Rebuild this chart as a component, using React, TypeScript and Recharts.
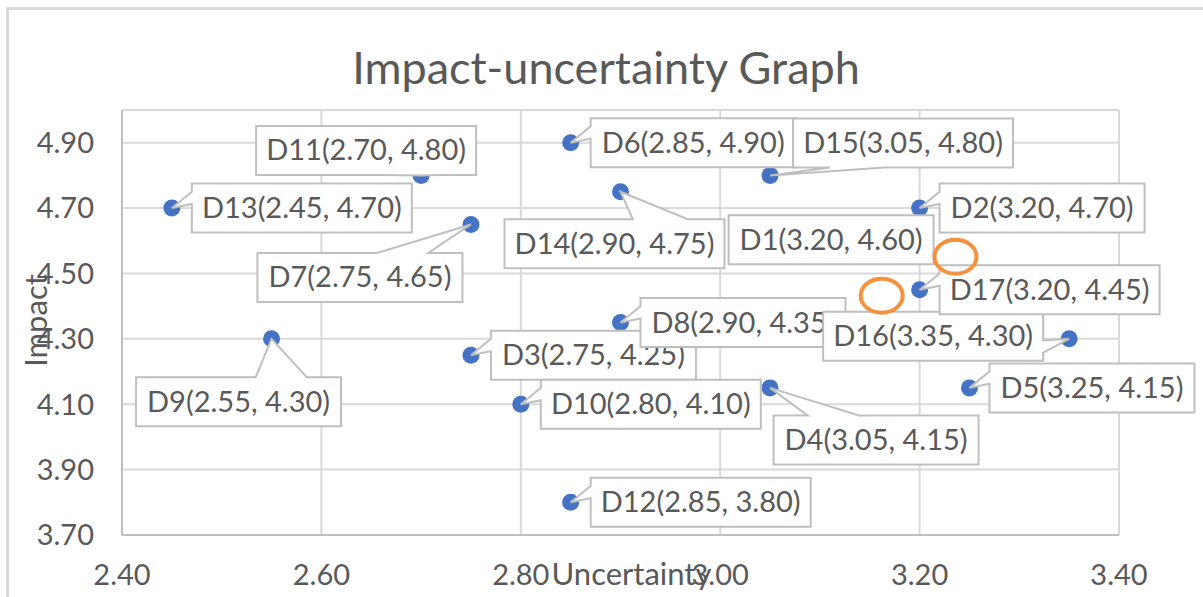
import React from 'react';
import { ScatterChart, Scatter, XAxis, YAxis, CartesianGrid, Label } from 'recharts';

// ---------- data ----------
const names = ['D1', 'D2', 'D3', 'D4', 'D5', 'D6', 'D7', 'D8', 'D9', 'D10', 'D11', 'D12', 'D13', 'D14', 'D15', 'D16', 'D17'];
const uncertainty = [3.2, 3.2, 2.75, 3.05, 3.25, 2.85, 2.75, 2.9, 2.55, 2.8, 2.7, 2.85, 2.45, 2.9, 3.05, 3.35, 3.2];
const impact = [4.6, 4.7, 4.25, 4.15, 4.15, 4.9, 4.65, 4.35, 4.3, 4.1, 4.8, 3.8, 4.7, 4.75, 4.8, 4.3, 4.45];
const xTicks = [2.4, 2.6, 2.8, 3.0, 3.2, 3.4];
const yTicks = [3.7, 3.9, 4.1, 4.3, 4.5, 4.7, 4.9];
const ringX = [3.236, 3.162];
const ringY = [4.551, 4.432];

const TITLE = 'Impact-uncertainty Graph';
const X_TITLE = 'Uncertainty';
const Y_TITLE = 'Impact';

// ---------- label layout (px offsets of label-box centre from its point) ----------
const labelOffsets: Record<string, [number, number]> = {
  D1: [-88.5, -1],
  D4: [106, 52],
  D7: [-111, 53],
  D9: [-33, 63],
  D11: [-55, -25],
  D14: [-6, 52],
  D15: [133, -32.5],
  D16: [-136, -2.5],
};

const FONT = 'Lato, "Open Sans", sans-serif';
const TEXT = '#595959';
const BLUE = '#4472C4';
const ORANGE = '#F4923F';

const points = names.map((n, i) => ({ name: n, x: uncertainty[i], y: impact[i] }));
const rings = ringX.map((x, i) => ({ x, y: ringY[i] }));

function calloutPath(l: number, t: number, w: number, h: number, px: number, py: number) {
  const r = l + w;
  const b = t + h;
  const hc = l + w / 2;
  const vc = t + h / 2;
  const inside = px >= l && px <= r && py >= t && py <= b;
  if (inside) return `M${l},${t}L${r},${t}L${r},${b}L${l},${b}Z`;
  const dxPos = px - hc;
  const dyPos = py - vc;
  const dq = (dxPos * h) / w;
  const dz = Math.abs(dyPos) - Math.abs(dq);
  const x1 = l + (w * (dxPos > 0 ? 7 : 2)) / 12;
  const x2 = l + (w * (dxPos > 0 ? 10 : 5)) / 12;
  const y1 = t + (h * (dyPos > 0 ? 7 : 2)) / 12;
  const y2 = t + (h * (dyPos > 0 ? 10 : 5)) / 12;
  let d = `M${l},${t}`;
  if (dz > 0 && dyPos < 0) d += `L${x1},${t}L${px},${py}L${x2},${t}`;
  d += `L${r},${t}`;
  if (dz <= 0 && dxPos > 0) d += `L${r},${y1}L${px},${py}L${r},${y2}`;
  d += `L${r},${b}`;
  if (dz > 0 && dyPos > 0) d += `L${x2},${b}L${px},${py}L${x1},${b}`;
  d += `L${l},${b}`;
  if (dz <= 0 && dxPos < 0) d += `L${l},${y2}L${px},${py}L${l},${y1}`;
  d += 'Z';
  return d;
}

const Dot = (p: any) => {
  if (p.cx == null || p.cy == null) return null;
  return <circle cx={p.cx} cy={p.cy} r={8.5} fill={BLUE} />;
};

const CalloutLabel = (p: any) => {
  if (p.cx == null || p.cy == null) return null;
  const d = p.payload;
  const w = d.name.length > 2 ? 220 : 205;
  const h = 49;
  const off = labelOffsets[d.name] || [20 + w / 2, 0];
  const cx = p.cx + off[0];
  const cy = p.cy + off[1];
  const l = cx - w / 2;
  const t = cy - h / 2;
  const text = `${d.name}(${d.x.toFixed(2)}, ${d.y.toFixed(2)})`;
  return (
    <g>
      <path d={calloutPath(l, t, w, h, p.cx, p.cy)} fill="#ffffff" stroke="#bfbfbf" strokeWidth={2} strokeLinejoin="miter" />
      <text x={cx} y={cy + 10} textAnchor="middle" fill={TEXT} fontSize={29} fontFamily={FONT}>
        {text}
      </text>
    </g>
  );
};

const Ring = (p: any) => {
  if (p.cx == null || p.cy == null) return null;
  return <ellipse cx={p.cx} cy={p.cy} rx={21} ry={17} fill="none" stroke={ORANGE} strokeWidth={4} />;
};

const tickStyle = { fill: TEXT, fontSize: 29, fontFamily: FONT };

export default function App() {
  return (
    <div style={{ position: 'absolute', left: 0, top: 0, width: 1203, height: 597, background: '#ffffff', overflow: 'hidden' }}>
      <ScatterChart width={1203} height={597} margin={{ top: 110, right: 84, bottom: 0, left: 0 }}>
        <CartesianGrid stroke="#d9d9d9" strokeWidth={2} />
        <XAxis
          type="number"
          dataKey="x"
          domain={[2.4, 3.4]}
          ticks={xTicks}
          height={62}
          tickSize={0}
          tickMargin={29}
          tickLine={false}
          axisLine={{ stroke: '#bfbfbf', strokeWidth: 2 }}
          tick={tickStyle}
          tickFormatter={(v: number) => v.toFixed(2)}
        >
          <Label
            content={(props: any) => {
              const vb = props.viewBox || { x: 122, y: 535, width: 997 };
              return (
                <text x={vb.x + vb.width / 2 + 11} y={vb.y + 50} textAnchor="middle" fill={TEXT} fontSize={31} fontFamily={FONT}>
                  {X_TITLE}
                </text>
              );
            }}
          />
        </XAxis>
        <YAxis
          type="number"
          dataKey="y"
          domain={[3.7, 5.0]}
          ticks={yTicks}
          width={122}
          tickSize={0}
          tickMargin={28}
          tickLine={false}
          axisLine={{ stroke: '#bfbfbf', strokeWidth: 2 }}
          tick={tickStyle}
          tickFormatter={(v: number) => v.toFixed(2)}
        >
          <Label
            content={(props: any) => {
              const vb = props.viewBox || { x: 0, y: 110, width: 122, height: 425 };
              const tx = vb.x + 47;
              const ty = vb.y + vb.height / 2 - 2;
              return (
                <text x={tx} y={ty} transform={`rotate(-90, ${tx}, ${ty})`} textAnchor="middle" fill={TEXT} fontSize={31} fontFamily={FONT}>
                  {Y_TITLE}
                </text>
              );
            }}
          />
        </YAxis>
        <Scatter name="points" data={points} shape={Dot} isAnimationActive={false} legendType="none" />
        <Scatter name="labels" data={points} shape={CalloutLabel} isAnimationActive={false} legendType="none" />
        <Scatter name="highlights" data={rings} shape={Ring} isAnimationActive={false} legendType="none" />
      </ScatterChart>
      <svg width={1203} height={597} style={{ position: 'absolute', left: 0, top: 0, pointerEvents: 'none' }}>
        <line x1={7.5} y1={8} x2={7.5} y2={597} stroke="#d9d9d9" strokeWidth={3} />
        <line x1={6} y1={8.5} x2={1203} y2={8.5} stroke="#d9d9d9" strokeWidth={3} />
        <text x={606} y={84} textAnchor="middle" fill={TEXT} fontSize={45} fontFamily={FONT}>
          {TITLE}
        </text>
      </svg>
    </div>
  );
}
